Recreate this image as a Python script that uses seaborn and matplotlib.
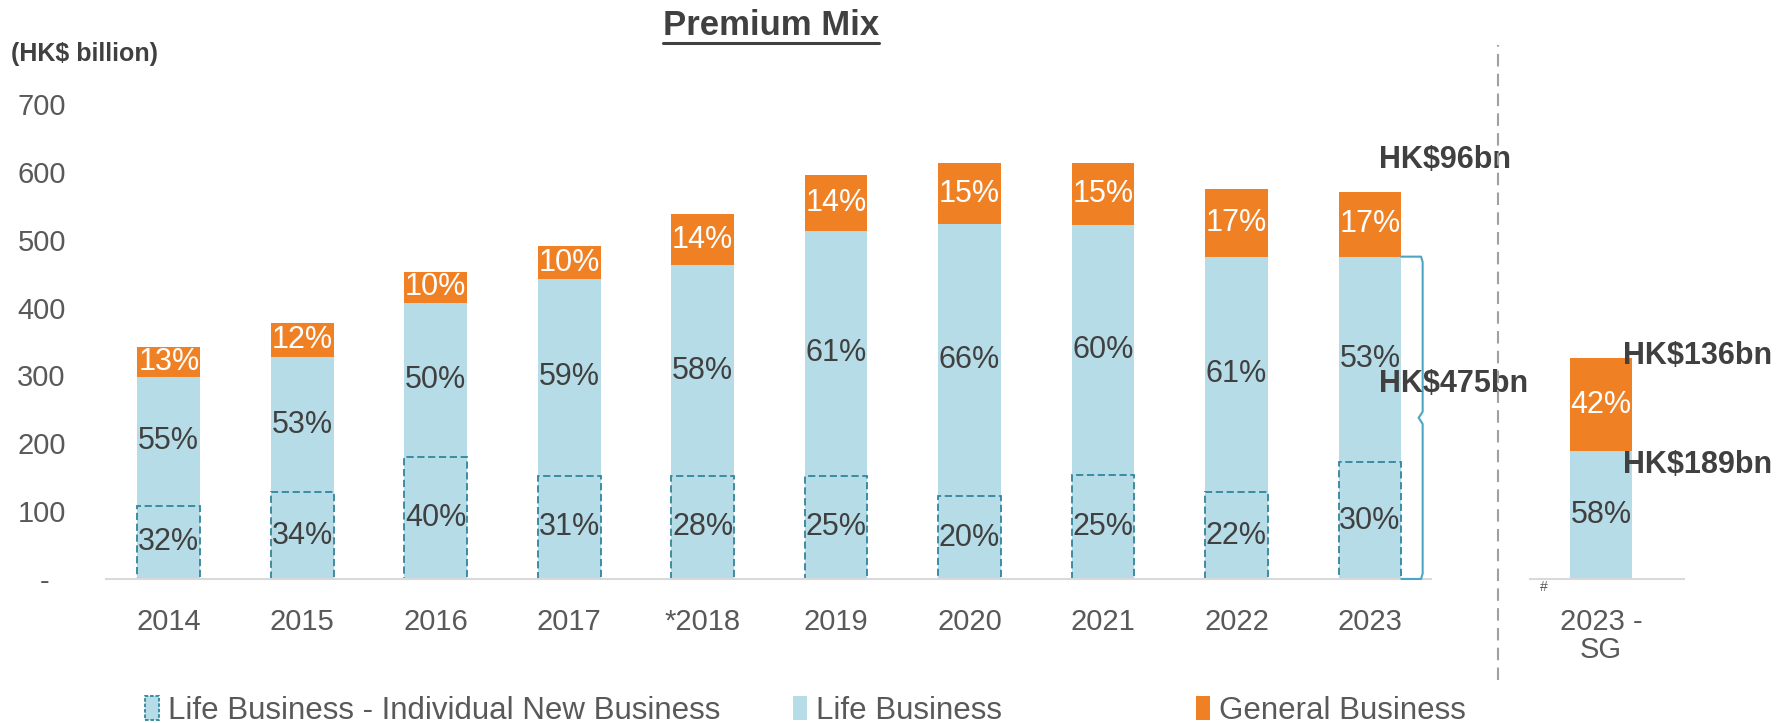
import matplotlib
matplotlib.use("Agg")
import matplotlib.pyplot as plt
import seaborn as sns
from matplotlib.patches import Patch
from matplotlib.lines import Line2D

# ---------------- data ----------------
years = ['2014', '2015', '2016', '2017', '*2018', '2019', '2020', '2021', '2022', '2023']
total_premium = [342, 377, 453, 490, 538, 595, 613, 613, 575, 571]
life_premium = [298, 327, 407, 442, 462, 513, 523, 522, 475, 475]
new_business = [108, 128, 180, 152, 152, 152, 122, 153, 128, 172]
general_pct = ['13%', '12%', '10%', '10%', '14%', '14%', '15%', '15%', '17%', '17%']
life_pct = ['55%', '53%', '50%', '59%', '58%', '61%', '66%', '60%', '61%', '53%']
new_business_pct = ['32%', '34%', '40%', '31%', '28%', '25%', '20%', '25%', '22%', '30%']

sg_category = ['2023 -\nSG']
sg_life = [189]
sg_general = [136]
sg_life_pct = ['58%']
sg_general_pct = ['42%']

y_ticks = [0, 100, 200, 300, 400, 500, 600, 700]
y_tick_labels = ['-  ', '100', '200', '300', '400', '500', '600', '700']

label_2023_general = 'HK$96bn'
label_2023_life = 'HK$475bn'
label_sg_general = 'HK$136bn'
label_sg_life = 'HK$189bn'

# ---------------- style ----------------
ORANGE = '#EF8024'
LIGHT = '#B6DCE7'
TEAL = '#31859C'
BRACE = '#4AA6C4'
DARK = '#404040'
GREY = '#595959'
BAR_W = 0.47

sns.set_theme(style='white')
plt.rcParams['font.family'] = ['Liberation Sans', 'DejaVu Sans']

fig = plt.figure(figsize=(17.77, 7.23), dpi=100)
ax = fig.add_axes([0.0597, 0.1992, 0.7454, 0.657])
ax2 = fig.add_axes([0.861, 0.1992, 0.0867, 0.657])


def stacked(axis, cats, tot, lif, nb=None):
    sns.barplot(x=cats, y=tot, color=ORANGE, saturation=1, width=BAR_W,
                linewidth=0, ax=axis)
    sns.barplot(x=cats, y=lif, color=LIGHT, saturation=1, width=BAR_W,
                linewidth=0, ax=axis)
    if nb is not None:
        n0 = len(axis.patches)
        sns.barplot(x=cats, y=nb, color=LIGHT, saturation=1, width=BAR_W,
                    ax=axis, edgecolor=TEAL, linewidth=1.3,
                    linestyle=(0, (4, 2)))
        for p in axis.patches[n0:]:
            p.set_edgecolor(TEAL)
            p.set_linestyle((0, (4, 2)))
            p.set_linewidth(1.3)
            p.set_facecolor(LIGHT)


stacked(ax, years, total_premium, life_premium, new_business)
sg_total = [l + g for l, g in zip(sg_life, sg_general)]
stacked(ax2, sg_category, sg_total, sg_life)

PCT_FS = 22
for i in range(len(years)):
    ax.text(i, (life_premium[i] + total_premium[i]) / 2, general_pct[i],
            ha='center', va='center', color='white', fontsize=PCT_FS)
    ax.text(i, (new_business[i] + life_premium[i]) / 2, life_pct[i],
            ha='center', va='center', color=DARK, fontsize=PCT_FS)
    ax.text(i, new_business[i] / 2, new_business_pct[i],
            ha='center', va='center', color=DARK, fontsize=PCT_FS)

ax2.text(0, (sg_life[0] + sg_total[0]) / 2, sg_general_pct[0], ha='center',
         va='center', color='white', fontsize=PCT_FS)
ax2.text(0, sg_life[0] / 2, sg_life_pct[0], ha='center', va='center',
         color=DARK, fontsize=PCT_FS)

for a in (ax, ax2):
    a.set_ylim(0, 700)
    a.set_xlabel('')
    a.set_ylabel('')
    for s in ('left', 'top', 'right'):
        a.spines[s].set_visible(False)
    a.spines['bottom'].set_color('#D9D9D9')
    a.spines['bottom'].set_linewidth(1.5)
    a.tick_params(axis='x', length=0, pad=21, labelsize=21, labelcolor=GREY)

ax.set_xlim(-0.47, 9.455)
ax2.set_xlim(-0.53, 0.62)
ax.set_yticks(y_ticks)
ax.set_yticklabels(y_tick_labels)
ax.tick_params(axis='y', length=0, pad=29, labelsize=21, labelcolor=GREY)
ax2.set_yticks([])
for t in ax2.get_xticklabels():
    t.set_linespacing(1.0)

# value annotations
last = len(years) - 1
ax.text(last + 0.07, 618, label_2023_general, ha='left', va='center',
        fontsize=22, fontweight='bold', color=DARK)
ax.text(last + 0.07, 288, label_2023_life, ha='left',
        va='center', fontsize=22, fontweight='bold', color=DARK, zorder=5)
ax2.text(0.165, sg_total[0] + 3, label_sg_general, ha='left', va='center',
         fontsize=22, fontweight='bold', color=DARK, zorder=5)
ax2.text(0.165, sg_life[0] - 21, label_sg_life, ha='left', va='center',
         fontsize=22, fontweight='bold', color=DARK, zorder=5)
ax2.text(-0.43, -12, '#', ha='center', va='center', fontsize=10, color=GREY)

# bracket for 2023 life business
xr = last + BAR_W / 2
xb = xr + 0.16
top = life_premium[last]
mid = top / 2
bx = [xr, xb - 0.012, xb, xb, xb - 0.03, xb, xb, xb - 0.012, xr]
by = [top, top, top - 8, mid + 9, mid, mid - 9, 8, 0, 0]
ax.plot(bx, by, color=BRACE, lw=1.5, clip_on=False, zorder=4)

# separator
fig.add_artist(Line2D([0.843, 0.843], [0.06, 0.938], color='#A0A0A0', lw=1.5,
                      linestyle=(0, (6, 3.5)), transform=fig.transFigure))

# title and unit
title = fig.text(0.434, 0.965, 'Premium Mix', ha='center', va='center',
                 fontsize=25, fontweight='bold', color=DARK)
fig.text(0.006, 0.925, '(HK$ billion)', ha='left', va='center', fontsize=18,
         fontweight='bold', color=DARK)
fig.canvas.draw()
bb = title.get_window_extent().transformed(fig.transFigure.inverted())
fig.add_artist(Line2D([bb.x0, bb.x1], [bb.y0 - 0.002, bb.y0 - 0.002],
                      color=DARK, lw=2.2, transform=fig.transFigure))

# legend
items = [
    (Patch(facecolor=LIGHT, edgecolor=TEAL, linestyle=(0, (2, 1)), linewidth=1.3),
     'Life Business - Individual New Business', 0.0816),
    (Patch(facecolor=LIGHT, edgecolor='none'), 'Life Business', 0.446),
    (Patch(facecolor=ORANGE, edgecolor='none'), 'General Business', 0.673),
]
for h, lab, xpos in items:
    lg = fig.legend([h], [lab], loc='center left', bbox_to_anchor=(xpos, 0.017),
                    frameon=False, fontsize=22.5, handlelength=0.45,
                    handleheight=0.85, handletextpad=0.3, borderpad=0,
                    borderaxespad=0)
    for t in lg.get_texts():
        t.set_color(GREY)

fig.savefig('out.png', dpi=100)
